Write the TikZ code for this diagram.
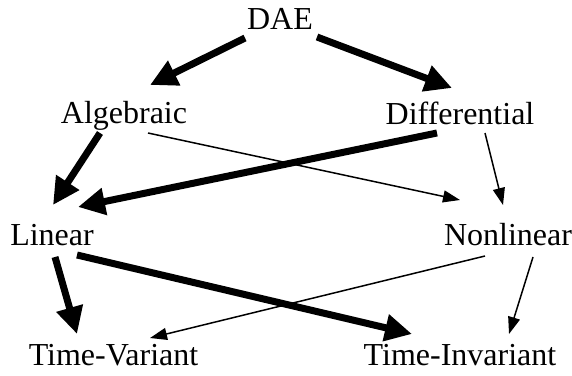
\documentclass[tikz,border=0pt]{standalone}
\usepackage{fontspec}
\setmainfont{Liberation Serif}
\usetikzlibrary{arrows.meta,calc}
\tikzset{
  lbl/.style={anchor=base, inner sep=0pt, font=\fontsize{32}{38}\selectfont},
  heavy/.style={line width=7pt, -{Triangle[length=27pt,width=26pt]}},
  light/.style={line width=1.5pt, -{Triangle[length=17pt,width=12pt]}},
}
\begin{document}
\begin{tikzpicture}[x=1pt,y=1pt]
\useasboundingbox (0,0) rectangle (572,375);
\node[lbl] (dae) at (280,345) {DAE};
\node[lbl] (alg) at (124,251) {Algebraic};
\node[lbl] (dif) at (460,250) {Differential};
\node[lbl] (lin) at (52,130) {Linear};
\node[lbl] (non) at (508,130) {Nonlinear};
\node[lbl] (tv) at (113.5,10) {Time-Variant};
\node[lbl] (ti) at (460,10) {Time-Invariant};
% heavy arrows
\draw[heavy] ($(dae.base)+(-35,-8)$) -- ($(alg.base)+(26,39)$);
\draw[heavy] ($(dae.base)+(37,-7)$) -- ($(dif.base)+(-8,37)$);
\draw[heavy] ($(alg.base)+(-24,-9)$) -- ($(lin.base)+(1,40)$);
\draw[heavy] ($(dif.base)+(-23,-8)$) -- ($(lin.base)+(26,38)$);
\draw[heavy] ($(lin.base)+(3,-12)$) -- ($(tv.base)+(-36.5,31)$);
\draw[heavy] ($(lin.base)+(25,-10)$) -- ($(ti.base)+(-48,31)$);
% light arrows
\draw[light] ($(alg.base)+(24,-9)$) -- ($(non.base)+(-48,45)$);
\draw[light] ($(dif.base)+(25,-8)$) -- ($(non.base)+(-5,40)$);
\draw[light] ($(non.base)+(-23,-11)$) -- ($(tv.base)+(36.5,27)$);
\draw[light] ($(non.base)+(25,-12)$) -- ($(ti.base)+(49,31)$);
\end{tikzpicture}
\end{document}
